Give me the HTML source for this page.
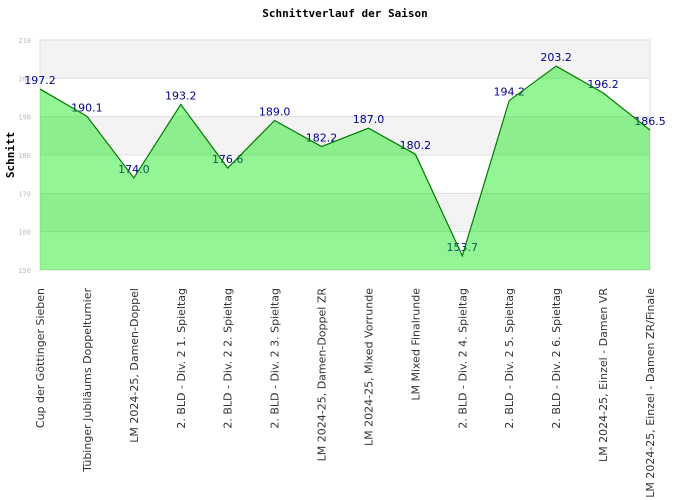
<!DOCTYPE html>
<html><head><meta charset="utf-8"><style>
body{margin:0;background:#fff;}
svg{display:block;font-family:"DejaVu Sans","Liberation Sans",sans-serif;}
</style></head><body>
<svg id="chart" width="690" height="500" xmlns="http://www.w3.org/2000/svg">
<text x="345" y="17" text-anchor="middle" font-family="DejaVu Sans Mono, monospace" font-weight="bold" font-size="11" fill="#000">Schnittverlauf der Saison</text>
<text transform="translate(14,155) rotate(-90)" text-anchor="middle" font-family="DejaVu Sans Mono, monospace" font-weight="bold" font-size="11" fill="#000">Schnitt</text>
<g id="grid"></g><g id="labels"></g><g id="area"></g><g id="xl"></g>
</svg>
<script>
const categories=["Cup der Göttinger Sieben","Tübinger Jubiläums Doppelturnier","LM 2024-25, Damen-Doppel","2. BLD - Div. 2   1. Spieltag","2. BLD - Div. 2   2. Spieltag","2. BLD - Div. 2   3. Spieltag","LM 2024-25, Damen-Doppel ZR","LM 2024-25, Mixed Vorrunde","LM Mixed Finalrunde","2. BLD - Div. 2   4. Spieltag","2. BLD - Div. 2   5. Spieltag","2. BLD - Div. 2   6. Spieltag","LM 2024-25, Einzel - Damen VR","LM 2024-25, Einzel - Damen ZR/Finale"];
const values=[197.2,190.1,174.0,193.2,176.6,189.0,182.2,187.0,180.2,153.7,194.2,203.2,196.2,186.5];
const yTicks=[150,160,170,180,190,200,210];
const NS="http://www.w3.org/2000/svg";
const X0=40,X1=650,Y0=270,Y1=40,yMin=150,yMax=210;
const xs=i=>X0+i*(X1-X0)/(categories.length-1);
const ys=v=>Y0-(v-yMin)/(yMax-yMin)*(Y0-Y1);
function mk(t,a,p){const e=document.createElementNS(NS,t);for(const k in a)e.setAttribute(k,a[k]);p.appendChild(e);return e;}
const grid=document.getElementById('grid');
for(let i=0;i<yTicks.length-1;i++){
  if((yTicks.length-2-i)%2===0){const r=mk('rect',{x:X0,y:ys(yTicks[i+1]),width:X1-X0,height:ys(yTicks[i])-ys(yTicks[i+1]),fill:'#f3f3f3'},grid);
  
  }
}
yTicks.forEach(t=>{
  const l=mk('line',{x1:X0,x2:X1,y1:ys(t),y2:ys(t),stroke:'#e0e0e0','stroke-width':1},grid);
  
  
  const tx=mk('text',{x:31,y:ys(t)+3,'text-anchor':'end','font-size':7,fill:'#bbb','font-family':'DejaVu Sans Mono, monospace'},grid);
  tx.textContent=t;
  
  
});
const fr=mk('rect',{x:X0,y:Y1,width:X1-X0,height:Y0-Y1,fill:'none',stroke:'#ddd'},grid);


const lab=document.getElementById('labels');
values.forEach((v,i)=>{
  const t=mk('text',{x:xs(i),y:ys(v)-5,'text-anchor':'middle','font-size':11,fill:'#000090'},lab);
  t.textContent=v.toFixed(1);
  
  
});
const area=document.getElementById('area');
let d='M'+xs(0)+','+Y0;values.forEach((v,i)=>d+=' L'+xs(i)+','+ys(v));d+=' L'+xs(values.length-1)+','+Y0+' Z';
const ap=mk('path',{d:d,fill:'rgb(0,230,0)','fill-opacity':0.42},area);


const lp=mk('polyline',{points:values.map((v,i)=>xs(i)+','+ys(v)).join(' '),fill:'none',stroke:'#007a00','stroke-width':1.2},area);


const xl=document.getElementById('xl');
categories.forEach((c,i)=>{
  const t=mk('text',{transform:'translate('+(xs(i)+4)+',288) rotate(-90)','text-anchor':'end','font-size':11,fill:'#333','xml:space':'preserve'},xl);
  t.textContent=c;
  
  
});
</script>
</body></html>
